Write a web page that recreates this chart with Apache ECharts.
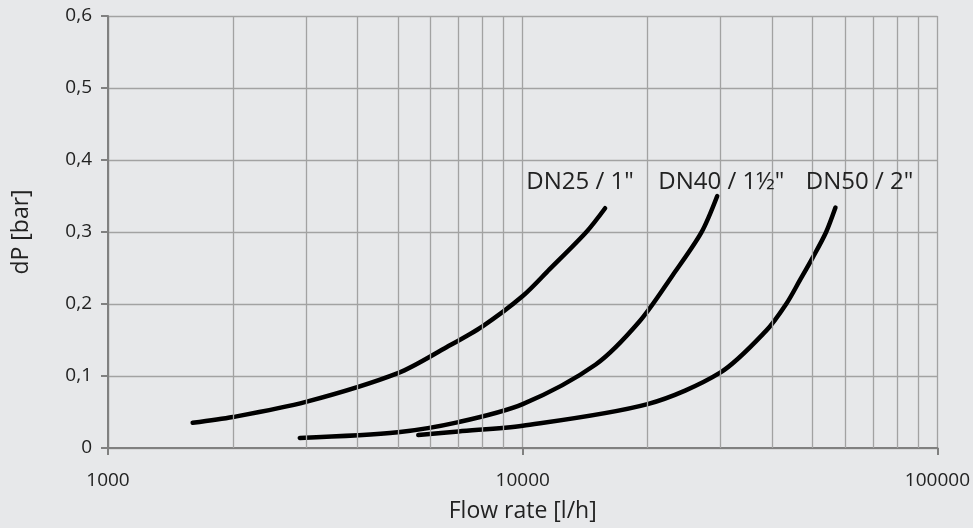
<!DOCTYPE html>
<html>
<head>
<meta charset="utf-8">
<script src="https://cdn.jsdelivr.net/npm/echarts@6/dist/echarts.min.js"></script>
<style>
html,body{margin:0;padding:0;background:#e7e8ea;}
#c{width:973px;height:528px;}
</style>
</head>
<body>
<div id="c"></div>
<script>
const xTicks = [1000, 10000, 100000];
const minorGrid = [2000, 3000, 4000, 5000, 6000, 7000, 8000, 9000, 20000, 30000, 40000, 50000, 60000, 70000, 80000, 90000];
const yTicks = [0, 0.1, 0.2, 0.3, 0.4, 0.5, 0.6];

const seriesNames = ['DN25 / 1"', 'DN40 / 1½"', 'DN50 / 2"'];
const dn25Flow = [1600, 2000, 3000, 5000, 6550, 8000, 10000, 11600, 14240, 15800];
const dn25Dp   = [0.035, 0.043, 0.064, 0.104, 0.140, 0.169, 0.211, 0.248, 0.300, 0.333];
const dn40Flow = [2900, 5000, 7000, 10000, 15000, 19140, 23000, 26950, 29450];
const dn40Dp   = [0.014, 0.022, 0.036, 0.061, 0.116, 0.176, 0.240, 0.299, 0.350];
const dn50Flow = [5600, 7000, 10000, 20000, 30000, 38660, 43190, 46500, 50000, 53920, 56780];
const dn50Dp   = [0.018, 0.023, 0.031, 0.061, 0.105, 0.163, 0.200, 0.232, 0.264, 0.300, 0.334];

const flows = [dn25Flow, dn40Flow, dn50Flow];
const dps = [dn25Dp, dn40Dp, dn50Dp];
const labelOffsets = [[-25, -9], [4, 3], [24, -8]];

const FONT = 'Open Sans';
const TXT = '#222';

const chart = echarts.init(document.getElementById('c'));
const series = [{
  type: 'line', data: [], z: 1, silent: true,
  markLine: {
    silent: true, symbol: 'none', animation: false,
    label: {show: false},
    lineStyle: {color: '#a2a2a2', width: 1.3, type: 'solid'},
    data: minorGrid.map(v => ({xAxis: v}))
  }
}];
flows.forEach((f, i) => {
  const data = f.map((x, j) => [x, dps[i][j]]);
  series.push({
    name: seriesNames[i], type: 'line', z: 3,
    smooth: 0.3, showSymbol: false, symbol: 'none',
    lineStyle: {color: '#000', width: 4.5, cap: 'round'},
    data: data,
    markPoint: {
      symbol: 'circle', symbolSize: 0, animation: false,
      label: {show: true, position: 'top', distance: 5, formatter: seriesNames[i],
        color: TXT, fontFamily: FONT, fontSize: 24, offset: labelOffsets[i]},
      data: [{coord: data[data.length - 1]}]
    }
  });
});

chart.setOption({
  backgroundColor: '#e7e8ea',
  animation: false,
  grid: {left: 108, right: 35, top: 16, bottom: 79},
  xAxis: {
    type: 'log', logBase: 10, min: 1000, max: 100000,
    name: 'Flow rate [l/h]', nameLocation: 'middle', nameGap: 52,
    nameTextStyle: {color: TXT, fontFamily: FONT, fontSize: 23},
    axisLine: {show: true, lineStyle: {color: '#808080', width: 2}},
    axisTick: {show: true, length: 7, lineStyle: {color: '#808080', width: 2}},
    axisLabel: {color: TXT, fontFamily: FONT, fontSize: 19, margin: 23,
      formatter: v => String(Math.round(v))},
    splitLine: {show: true, lineStyle: {color: '#a2a2a2', width: 1.3}},
    minorTick: {show: false}, minorSplitLine: {show: false}
  },
  yAxis: {
    type: 'value', min: 0, max: 0.6, interval: 0.1,
    name: 'dP [bar]', nameLocation: 'middle', nameGap: 75, nameRotate: 90,
    nameTextStyle: {color: TXT, fontFamily: FONT, fontSize: 23},
    axisLine: {show: true, lineStyle: {color: '#808080', width: 2}},
    axisTick: {show: true, length: 7, lineStyle: {color: '#808080', width: 2}},
    axisLabel: {color: TXT, fontFamily: FONT, fontSize: 19, margin: 16,
      formatter: v => (Math.round(v * 10) / 10).toString().replace('.', ',')},
    splitLine: {show: true, lineStyle: {color: '#a2a2a2', width: 1.3}}
  },
  series: series
});
</script>
</body>
</html>
